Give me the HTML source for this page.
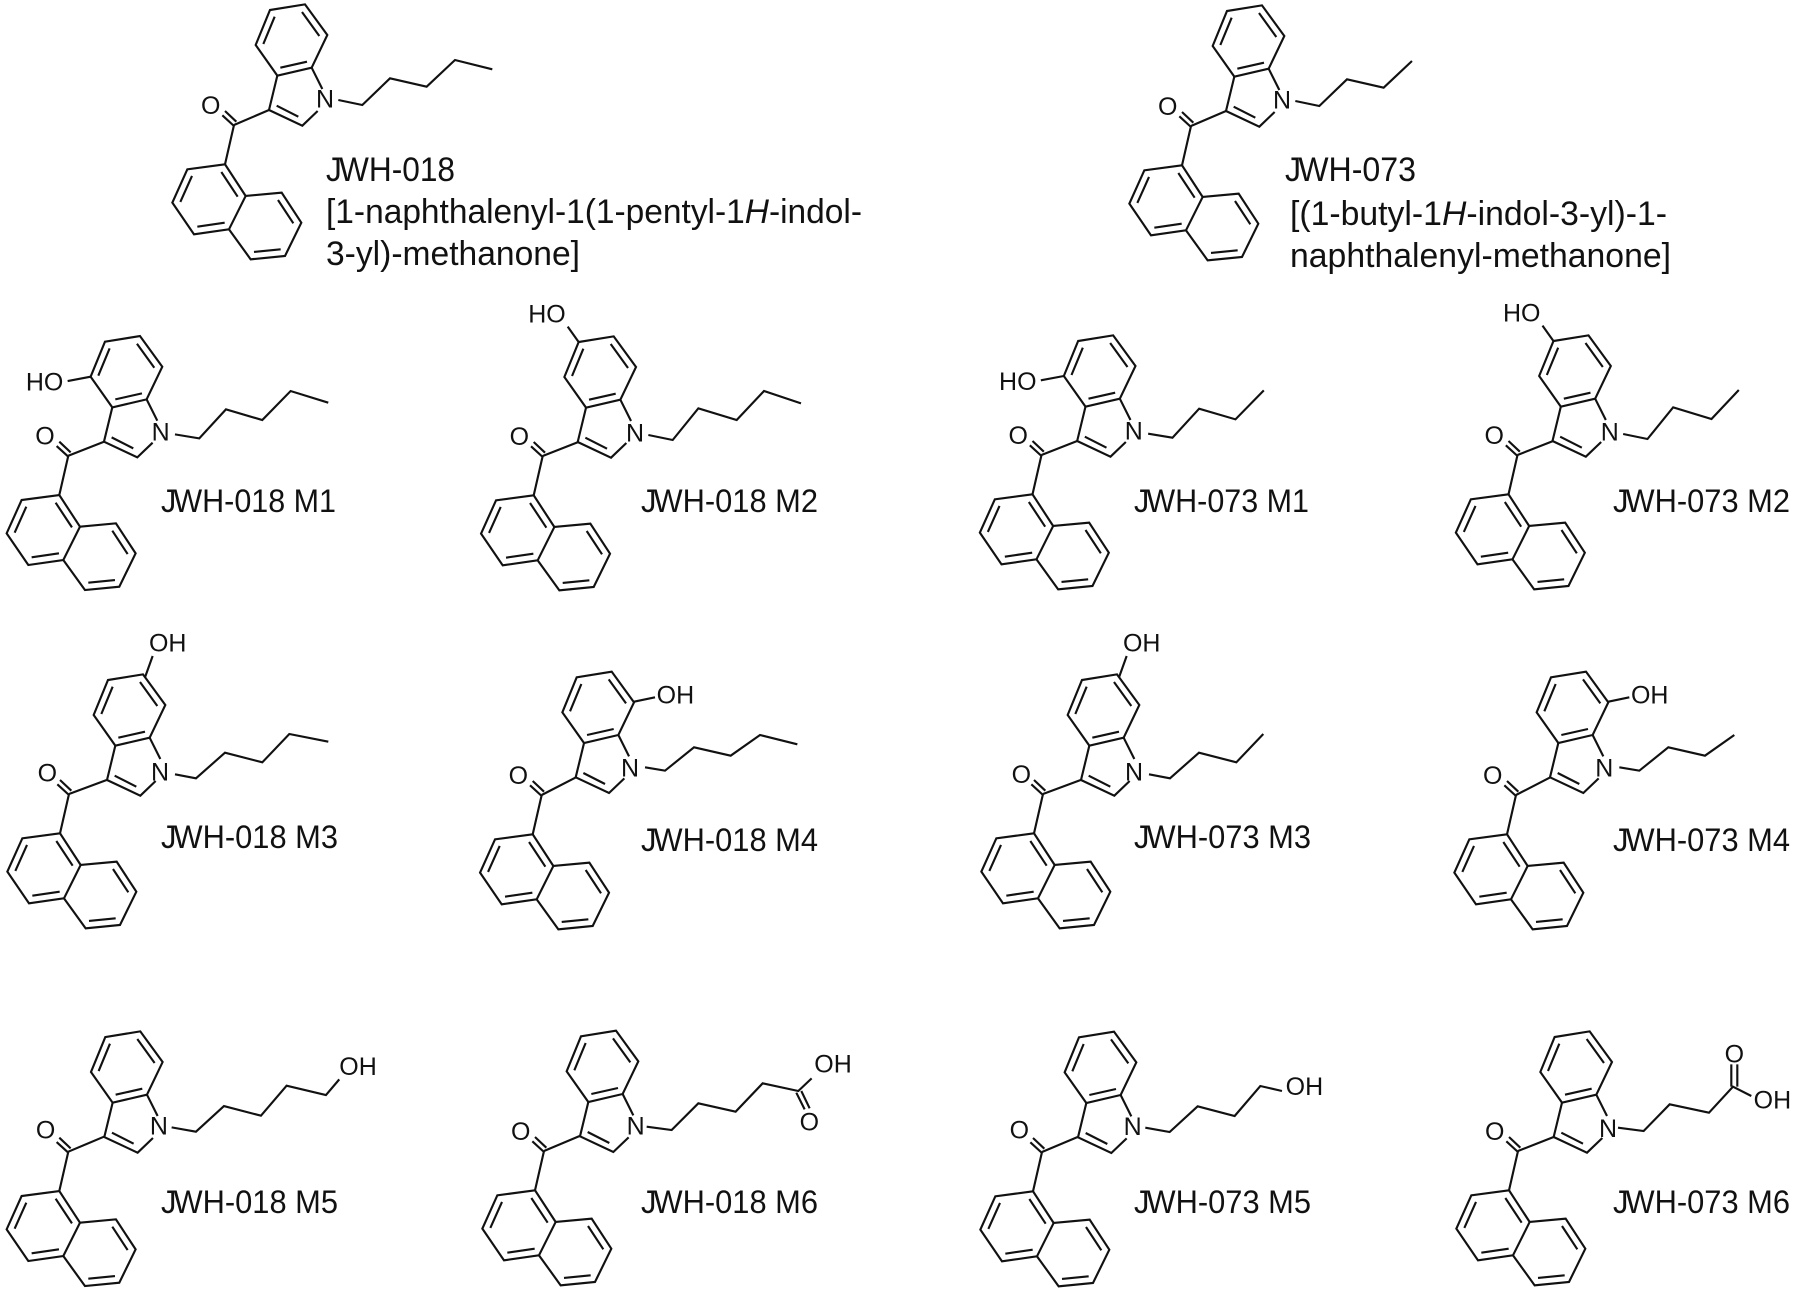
<!DOCTYPE html>
<html><head><meta charset="utf-8"><style>
html,body{margin:0;padding:0;background:#fff}
svg{display:block;filter:blur(.35px)}
.b{fill:none;stroke:#111;stroke-width:6.4;stroke-linejoin:miter;stroke-linecap:butt}
.a{font-family:"Liberation Sans",sans-serif;font-size:75px;fill:#111}
.m{text-anchor:middle}
.e{text-anchor:end}
.l{font-family:"Liberation Sans",sans-serif;font-size:32px;fill:#111}
.t{font-family:"Liberation Sans",sans-serif;font-size:34px;fill:#111}
</style></head><body>
<svg xmlns="http://www.w3.org/2000/svg" width="1800" height="1294" viewBox="0 0 1800 1294">
<rect width="1800" height="1294" fill="#fff"/>
<defs>
<g id="naph" class="b">
<path d="M0 0L-27 118M0 3L-35 -29M7 -10L-27 -42"/>
<path d="M-27 118L-140 133L-185 233L-120 328L-15 313L35 213Z"/>
<path d="M35 213L143 203L202 293L153 393L50 403L-15 313"/>
<path d="M-38 141L11 215M-126 153L-161 231M-110 305L-28 293M132 225L178 295M140 373L60 381"/>
</g>
<g id="ind" class="b">
<path d="M67 -237L110 -342L215 -359L282 -267L235 -169L132 -145Z"/>
<path d="M235 -169L267 -105M253 -39L207 5L107 -42L132 -145"/>
<path d="M90 -240L124 -322M206 -336L258 -264M221 -187L141 -169M130 -55L195 -22"/>
</g>
</defs>

<!-- JWH-018 -->
<g transform="translate(234,125) scale(.3333)">
<use href="#naph"/><use href="#ind" x="-2" y="-3"/>
<path class="b" d="M0 0L105 -45M313 -75L385 -60L468 -140L578 -115L663 -195L775 -167"/>
<text class="a m" x="273" y="-52">N</text><text class="a m" x="-70" y="-33">O</text>
</g>
<text class="t" x="326" y="181" textLength="129" lengthAdjust="spacingAndGlyphs">J<tspan dx="-3">WH-018</tspan></text>
<text class="t" x="326" y="223" textLength="536" lengthAdjust="spacingAndGlyphs">[1-naphthalenyl-1(1-pentyl-1<tspan font-style="italic">H</tspan>-indol-</text>
<text class="t" x="326" y="265" textLength="254" lengthAdjust="spacingAndGlyphs">3-yl)-methanone]</text>

<!-- JWH-073 -->
<g transform="translate(1191,126) scale(.3333)">
<use href="#naph"/><use href="#ind" x="-2" y="-3"/>
<path class="b" d="M0 0L105 -45M313 -75L385 -60L468 -140L578 -115L663 -195"/>
<text class="a m" x="273" y="-52">N</text><text class="a m" x="-70" y="-33">O</text>
</g>
<text class="t" x="1285" y="181" textLength="131" lengthAdjust="spacingAndGlyphs">J<tspan dx="-3">WH-073</tspan></text>
<text class="t" x="1290" y="225" textLength="377" lengthAdjust="spacingAndGlyphs">[(1-butyl-1<tspan font-style="italic">H</tspan>-indol-3-yl)-1-</text>
<text class="t" x="1290" y="267" textLength="381" lengthAdjust="spacingAndGlyphs">naphthalenyl-methanone]</text>

<!-- JWH-018 M1 -->
<g transform="translate(68.3,455.7) scale(.3333)">
<use href="#naph"/><use href="#ind"/>
<path class="b" d="M0 0L107 -42M320 -64L393 -52L473 -139L582 -107L667 -194L780 -159M67 -237L-2 -224"/>
<text class="a m" x="277" y="-46">N</text><text class="a m" x="-70" y="-33">O</text>
<text class="a e" x="-15" y="-195">HO</text>
</g>
<text class="l" x="161" y="512" textLength="175" lengthAdjust="spacingAndGlyphs">J<tspan dx="-3">WH-018 M1</tspan></text>

<!-- JWH-018 M2 -->
<g transform="translate(542.7,456) scale(.3333)">
<use href="#naph"/><use href="#ind" x="-2"/>
<path class="b" d="M0 0L107 -42M317 -63L390 -48L467 -143L582 -108L664 -195L775 -158M107 -343L75 -388"/>
<text class="a m" x="277" y="-44">N</text><text class="a m" x="-70" y="-33">O</text>
<text class="a e" x="69" y="-401">HO</text>
</g>
<text class="l" x="641" y="512" textLength="177" lengthAdjust="spacingAndGlyphs">J<tspan dx="-3">WH-018 M2</tspan></text>

<!-- JWH-073 M1 -->
<g transform="translate(1041.5,455) scale(.3333)">
<use href="#naph"/><use href="#ind"/>
<path class="b" d="M0 0L107 -42M320 -64L393 -52L473 -139L582 -107L667 -194M67 -237L-2 -224"/>
<text class="a m" x="277" y="-46">N</text><text class="a m" x="-70" y="-33">O</text>
<text class="a e" x="-15" y="-195">HO</text>
</g>
<text class="l" x="1134" y="512" textLength="175" lengthAdjust="spacingAndGlyphs">J<tspan dx="-3">WH-073 M1</tspan></text>

<!-- JWH-073 M2 -->
<g transform="translate(1517.5,455) scale(.3333)">
<use href="#naph"/><use href="#ind" x="-2"/>
<path class="b" d="M0 0L107 -42M317 -63L390 -48L467 -143L582 -108L664 -195M107 -343L75 -388"/>
<text class="a m" x="277" y="-44">N</text><text class="a m" x="-70" y="-33">O</text>
<text class="a e" x="69" y="-401">HO</text>
</g>
<text class="l" x="1613" y="512" textLength="177" lengthAdjust="spacingAndGlyphs">J<tspan dx="-3">WH-073 M2</tspan></text>

<!-- JWH-018 M3 -->
<g transform="translate(69,794) scale(.3333)">
<use href="#naph"/><use href="#ind" x="7"/>
<path class="b" d="M0 0L113 -42M318 -59L381 -47L468 -124L580 -95L661 -180L778 -157M228 -350L251 -414"/>
<text class="a m" x="273" y="-41">N</text><text class="a m" x="-65" y="-38">O</text>
<text class="a" x="240" y="-427">OH</text>
</g>
<text class="l" x="161" y="848" textLength="177" lengthAdjust="spacingAndGlyphs">J<tspan dx="-3">WH-018 M3</tspan></text>

<!-- JWH-018 M4 -->
<g transform="translate(541.7,795) scale(.3333)">
<use href="#naph"/><use href="#ind" x="-5" y="-11"/>
<path class="b" d="M0 0L103 -53M310 -83L370 -73L457 -143L567 -118L655 -180L767 -152M277 -280L340 -293"/>
<text class="a m" x="265" y="-56">N</text><text class="a m" x="-70" y="-33">O</text>
<text class="a" x="345" y="-275">OH</text>
</g>
<text class="l" x="641" y="851" textLength="177" lengthAdjust="spacingAndGlyphs">J<tspan dx="-3">WH-018 M4</tspan></text>

<!-- JWH-073 M3 -->
<g transform="translate(1043,794) scale(.3333)">
<use href="#naph"/><use href="#ind" x="7"/>
<path class="b" d="M0 0L113 -42M318 -59L381 -47L468 -124L580 -95L661 -180M228 -350L251 -414"/>
<text class="a m" x="273" y="-41">N</text><text class="a m" x="-65" y="-33">O</text>
<text class="a" x="240" y="-427">OH</text>
</g>
<text class="l" x="1134" y="848" textLength="177" lengthAdjust="spacingAndGlyphs">J<tspan dx="-3">WH-073 M3</tspan></text>

<!-- JWH-073 M4 -->
<g transform="translate(1516,795) scale(.3333)">
<use href="#naph"/><use href="#ind" x="-5" y="-11"/>
<path class="b" d="M0 0L103 -53M310 -83L370 -73L457 -143L567 -118L655 -180M277 -280L340 -293"/>
<text class="a m" x="265" y="-56">N</text><text class="a m" x="-70" y="-33">O</text>
<text class="a" x="345" y="-275">OH</text>
</g>
<text class="l" x="1613" y="851" textLength="177" lengthAdjust="spacingAndGlyphs">J<tspan dx="-3">WH-073 M4</tspan></text>

<!-- JWH-018 M5 -->
<g transform="translate(68.3,1151.7) scale(.3333)">
<use href="#naph"/><use href="#ind" x="1" y="-2"/>
<path class="b" d="M0 0L107 -45M310 -73L383 -60L467 -137L578 -108L655 -198L773 -170L813 -217"/>
<text class="a m" x="272" y="-51">N</text><text class="a m" x="-68" y="-40">O</text>
<text class="a" x="813" y="-230">OH</text>
</g>
<text class="l" x="161" y="1213" textLength="177" lengthAdjust="spacingAndGlyphs">J<tspan dx="-3">WH-018 M5</tspan></text>

<!-- JWH-018 M6 -->
<g transform="translate(544,1151) scale(.3333)">
<use href="#naph"/><use href="#ind" x="1" y="-2"/>
<path class="b" d="M0 0L107 -45M308 -73L383 -63L463 -143L575 -118L656 -203L763 -180L803 -218M757 -175L782 -125M772 -180L797 -128"/>
<text class="a m" x="275" y="-49">N</text><text class="a m" x="-70" y="-33">O</text>
<text class="a" x="811" y="-235">OH</text>
<text class="a m" x="796" y="-62">O</text>
</g>
<text class="l" x="641" y="1213" textLength="177" lengthAdjust="spacingAndGlyphs">J<tspan dx="-3">WH-018 M6</tspan></text>

<!-- JWH-073 M5 -->
<g transform="translate(1042,1152) scale(.3333)">
<use href="#naph"/><use href="#ind" x="1" y="-2"/>
<path class="b" d="M0 0L107 -45M310 -73L383 -60L467 -137L578 -108L655 -198L720 -183"/>
<text class="a m" x="272" y="-51">N</text><text class="a m" x="-68" y="-40">O</text>
<text class="a" x="731" y="-171">OH</text>
</g>
<text class="l" x="1134" y="1213" textLength="177" lengthAdjust="spacingAndGlyphs">J<tspan dx="-3">WH-073 M5</tspan></text>

<!-- JWH-073 M6 -->
<g transform="translate(1518,1151) scale(.3333)">
<use href="#naph"/><use href="#ind"/>
<path class="b" d="M0 0L107 -42M300 -70L377 -60L455 -140L573 -115L645 -193L700 -165M640 -193L640 -260M658 -193L658 -260"/>
<text class="a m" x="270" y="-42">N</text><text class="a m" x="-70" y="-33">O</text>
<text class="a m" x="649" y="-266">O</text>
<text class="a" x="707" y="-127">OH</text>
</g>
<text class="l" x="1613" y="1213" textLength="177" lengthAdjust="spacingAndGlyphs">J<tspan dx="-3">WH-073 M6</tspan></text>
</svg>
</body></html>
